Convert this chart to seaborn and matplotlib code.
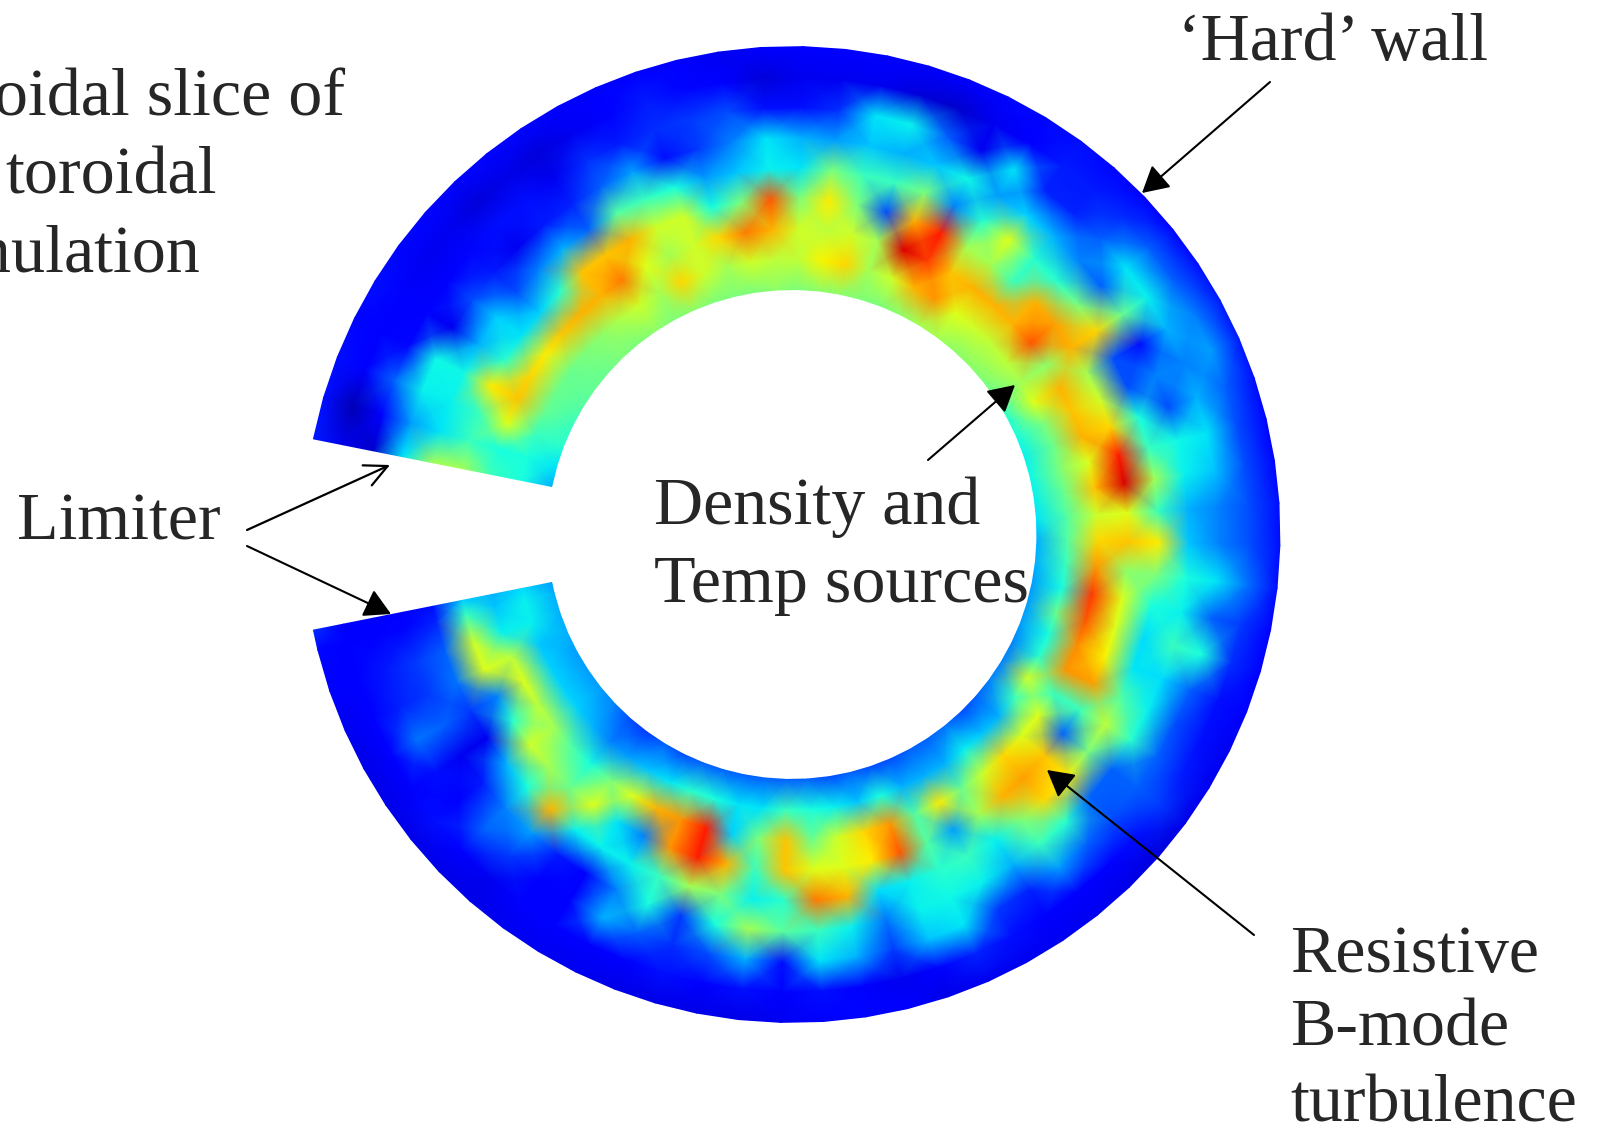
import numpy as np
import matplotlib
matplotlib.use('Agg')
import matplotlib.pyplot as plt
import matplotlib.transforms as mtrans
import seaborn as sns

# density, 0-100 on jet. one row per angle (5 deg steps,
# clockwise from the upper limiter), 9 values going from inner to outer edge
upper_left = [
    [30, 38, 42, 55, 55, 35, 7, 9, 15],
    [35, 38, 38, 42, 35, 28, 12, 5, 14],
    [40, 42, 62, 42, 36, 36, 22, 12, 14],
    [42, 47, 70, 66, 37, 37, 13, 12, 13],
    [45, 48, 68, 40, 30, 10, 12, 12, 14],
    [47, 48, 66, 35, 33, 20, 12, 10, 13],
    [48, 50, 70, 33, 20, 15, 13, 10, 13],
    [50, 52, 72, 40, 25, 10, 14, 8, 13],
    [50, 56, 72, 70, 30, 15, 14, 9, 13],
    [52, 60, 78, 70, 22, 16, 10, 8, 13],
]
upper_mid = [
    [50, 55, 62, 72, 45, 22, 17, 10, 12],
    [52, 68, 55, 60, 42, 28, 15, 12, 12],
    [50, 60, 60, 60, 38, 14, 17, 15, 12],
    [50, 55, 68, 38, 28, 18, 18, 13, 12],
    [50, 60, 78, 50, 32, 25, 20, 12, 10],
    [52, 58, 72, 82, 36, 35, 14, 8, 11],
    [50, 58, 60, 50, 35, 30, 14, 10, 12],
]
upper_right = [
    [52, 65, 58, 66, 50, 28, 17, 10, 12],
    [52, 68, 60, 50, 42, 32, 35, 10, 12],
    [50, 55, 55, 20, 42, 30, 36, 8, 12],
    [50, 60, 92, 72, 50, 32, 22, 7, 12],
    [52, 72, 85, 88, 25, 37, 10, 10, 13],
    [55, 75, 70, 55, 40, 28, 35, 12, 13],
    [55, 62, 72, 55, 62, 33, 16, 15, 14],
    [52, 60, 72, 42, 40, 30, 16, 15, 13],
    [52, 58, 72, 72, 40, 25, 22, 17, 12],
    [50, 58, 82, 74, 50, 22, 35, 22, 13],
    [48, 55, 52, 72, 68, 48, 36, 22, 14],
    [40, 62, 72, 55, 20, 14, 30, 25, 15],
    [38, 50, 70, 60, 20, 25, 25, 28, 15],
    [36, 48, 72, 68, 38, 20, 30, 22, 14],
    [37, 50, 62, 88, 42, 37, 35, 20, 13],
    [36, 48, 70, 92, 55, 36, 32, 20, 13],
    [35, 45, 60, 62, 42, 30, 25, 20, 14],
]
lower_right = [
    [30, 45, 68, 70, 66, 32, 25, 20, 14],
    [30, 42, 75, 52, 50, 38, 35, 24, 14],
    [28, 38, 85, 62, 38, 36, 22, 18, 12],
    [28, 48, 82, 62, 34, 42, 38, 17, 11],
    [28, 38, 76, 65, 35, 34, 22, 14, 11],
    [25, 40, 75, 74, 45, 36, 20, 14, 10],
    [25, 60, 42, 42, 58, 40, 22, 15, 10],
    [25, 42, 62, 22, 50, 22, 22, 18, 9],
    [22, 30, 62, 70, 66, 22, 20, 14, 8],
    [20, 32, 68, 74, 68, 40, 22, 12, 9],
    [24, 36, 60, 72, 50, 42, 28, 12, 10],
    [22, 30, 48, 55, 36, 30, 16, 12, 10],
    [22, 30, 66, 28, 42, 36, 18, 14, 10],
    [20, 30, 45, 45, 40, 37, 35, 16, 10],
    [20, 38, 75, 82, 36, 36, 32, 12, 9],
    [22, 32, 68, 66, 34, 24, 18, 10, 11],
    [20, 36, 60, 62, 72, 36, 30, 12, 13],
    [22, 38, 48, 62, 78, 42, 35, 14, 11],
]
lower_left = [
    [22, 42, 70, 70, 40, 46, 14, 12, 10],
    [22, 35, 50, 42, 36, 55, 30, 14, 9],
    [22, 35, 33, 72, 50, 38, 20, 12, 9],
    [22, 38, 88, 88, 55, 18, 17, 14, 9],
    [22, 40, 75, 75, 42, 38, 22, 11, 9],
    [20, 35, 72, 25, 36, 25, 30, 11, 10],
    [22, 32, 62, 35, 36, 12, 12, 12, 10],
    [18, 28, 50, 62, 36, 15, 12, 11, 10],
    [20, 25, 38, 48, 72, 28, 18, 10, 9],
    [25, 30, 45, 55, 38, 25, 22, 12, 9],
    [28, 33, 55, 60, 30, 15, 12, 14, 9],
    [28, 33, 58, 40, 10, 10, 14, 12, 9],
    [28, 33, 62, 25, 18, 22, 24, 11, 9],
    [30, 32, 58, 62, 24, 18, 16, 12, 10],
    [30, 36, 36, 60, 22, 18, 15, 12, 11],
    [30, 36, 32, 42, 16, 13, 12, 11, 13],
    [28, 34, 30, 33, 14, 12, 12, 12, 17],
]

field = np.array(upper_left + upper_mid + upper_right + lower_right + lower_left) / 100
n_rows, n_cols = field.shape

# ring geometry in pixels of the final image
cx, cy = 792, 534.5
r_in, r_out = 245, 488
limiter = 168.7
angles = np.append(limiter - 5 * np.arange(n_rows - 1), -limiter)


class RingTransform(mtrans.Transform):
    # heatmap cell index (radial, angular) -> pixel in the ring
    input_dims = 2
    output_dims = 2

    def transform_non_affine(self, values):
        values = np.asarray(values, dtype=float)
        r = r_in + (r_out - r_in) * values[:, 0] / (n_cols - 1)
        a = np.radians(np.interp(values[:, 1], np.arange(n_rows), angles))
        return np.column_stack([cx + r * np.cos(a), cy - r * np.sin(a)])


sns.set_style('white')
plt.rcParams['font.family'] = ['Liberation Serif', 'DejaVu Serif']

fig = plt.figure(figsize=(15.99, 11.28), dpi=100)
ax = fig.add_axes([0, 0, 1, 1])

sns.heatmap(field, ax=ax, cmap='jet', vmin=0, vmax=1, cbar=False,
            xticklabels=False, yticklabels=False, shading='gouraud',
            transform=RingTransform() + ax.transData)

ax.set_xlim(0, 1599)
ax.set_ylim(1128, 0)
ax.axis('off')

# labels (right aligned ones run off the left edge like in the original)
size = 49
ax.text(345, 115, 'Poloidal slice of', ha='right', fontsize=size)
ax.text(217, 194, 'toroidal', ha='right', fontsize=size)
ax.text(200, 271, 'simulation', ha='right', fontsize=size)
ax.text(17, 540, 'Limiter', fontsize=size)
ax.text(654, 524, 'Density and', fontsize=size)
ax.text(654, 602, 'Temp sources', fontsize=size)
ax.text(1178, 60, '\u2018Hard\u2019 wall', fontsize=size)
ax.text(1290, 972, 'Resistive', fontsize=size)
ax.text(1290, 1046, 'B-mode', fontsize=size)
ax.text(1290, 1122, 'turbulence', fontsize=size)

solid = dict(arrowstyle='-|>,head_length=0.45,head_width=0.25', color='black', lw=1.5,
             mutation_scale=36, shrinkA=0, shrinkB=0)
open_head = dict(arrowstyle='->,head_length=0.45,head_width=0.22', color='black', lw=1.6,
                 mutation_scale=36, shrinkA=0, shrinkB=0)
ax.annotate('', xy=(1142, 193), xytext=(1270, 82), arrowprops=solid)
ax.annotate('', xy=(1015, 385), xytext=(928, 460), arrowprops=solid)
ax.annotate('', xy=(1047, 770), xytext=(1254, 935), arrowprops=solid)
ax.annotate('', xy=(390, 465), xytext=(247, 530), arrowprops=open_head)
ax.annotate('', xy=(391, 614), xytext=(247, 546), arrowprops=solid)

fig.savefig('out.png', dpi=100, facecolor='white')
